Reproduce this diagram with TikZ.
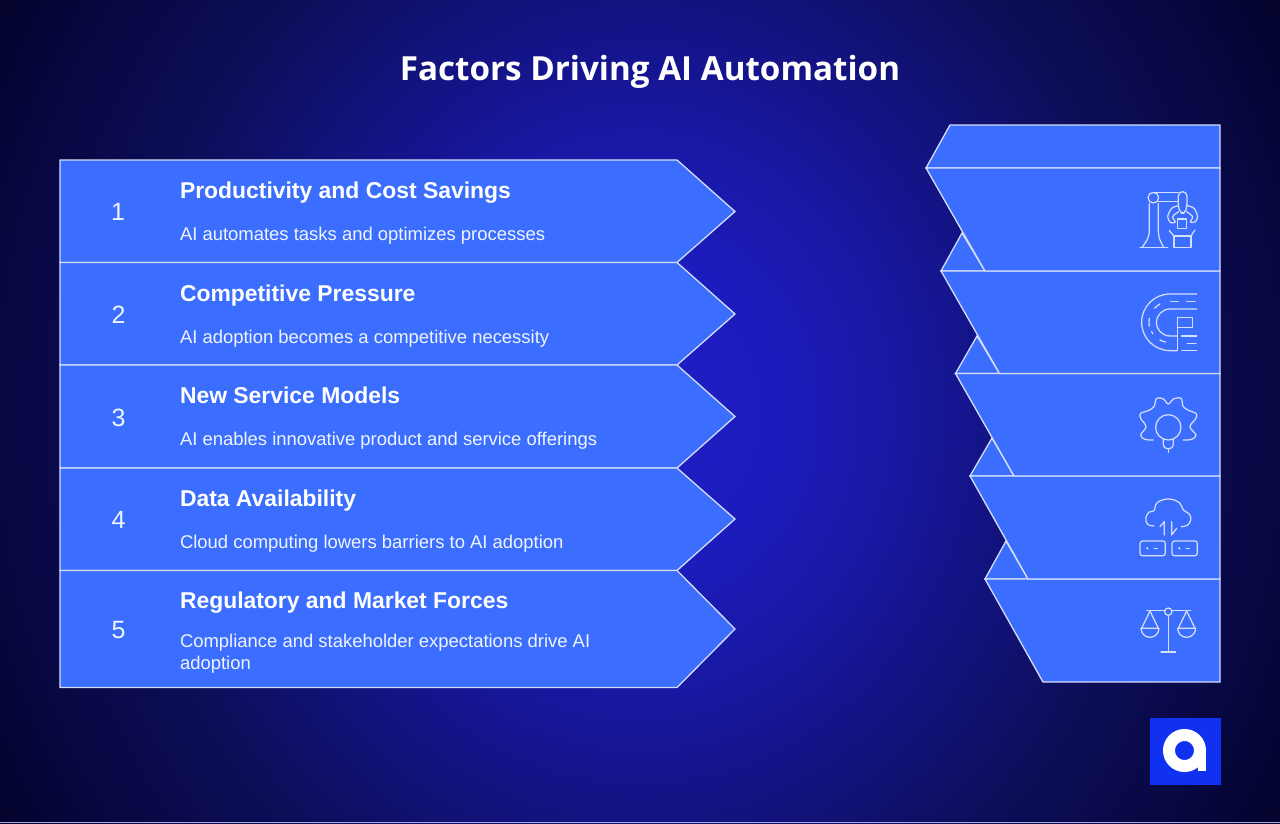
\documentclass[tikz,border=0pt]{standalone}
\usepackage{fontspec}
\setmainfont{Liberation Sans}
\newfontfamily\titlefont{Open Sans}
\definecolor{panel}{RGB}{59,110,254}
\definecolor{edge}{RGB}{212,222,248}
\definecolor{logoblue}{RGB}{16,50,240}
\definecolor{strip}{RGB}{170,170,225}
\pgfdeclareradialshading{bgglow}{\pgfpoint{0bp}{0bp}}{
    rgb(0bp)=(0.115,0.115,0.78);
    rgb(5.6bp)=(0.11,0.11,0.74);
    rgb(10.5bp)=(0.09,0.09,0.62);
    rgb(15.5bp)=(0.07,0.07,0.47);
    rgb(20bp)=(0.05,0.05,0.34);
    rgb(25bp)=(0.03,0.03,0.26);
    rgb(29bp)=(0.012,0.012,0.17);
    rgb(32bp)=(0,0,0.08);
    rgb(38bp)=(0,0,0.03);
    rgb(100bp)=(0,0,0.03)}
\tikzstyle{base}=[x=1pt, y=-1pt, inner sep=0pt, outer sep=0pt]
\tikzstyle{rowbox}=[draw=edge, fill=panel, line width=1.3pt, line join=miter]
\tikzstyle{icon}=[draw=edge, line width=1.25pt, line cap=round, line join=round]
\tikzstyle{heading}=[anchor=base west, text=white, font=\bfseries\fontsize{22.9}{24}\selectfont]
\tikzstyle{detail}=[anchor=base west, text=white!92!panel, font=\fontsize{18.45}{22}\selectfont, align=left]
\tikzstyle{number}=[text=white!92!panel, font=\fontsize{25}{25}\selectfont]
\begin{document}
\begin{tikzpicture}[base]
    \path [use as bounding box] (0,0) rectangle (1280,823);
    \begin{scope}
        \clip (0,0) rectangle (1280,823);
        \fill [shading=bgglow] (0,-300) rectangle (1280,1123);
    \end{scope}
    \fill [strip] (0,822) rectangle (1280,823);
    \node [anchor=base, text=white, font=\titlefont\bfseries\fontsize{33.2}{34}\selectfont] (title) at (650,80.5) {Factors Driving AI Automation};

    \draw [rowbox] (60,160) -- (677,160) -- (735,211.5) -- (677,262.5) -- (60,262.5) -- cycle;
    \draw [rowbox] (60,262.5) -- (677,262.5) -- (735,314) -- (677,365) -- (60,365) -- cycle;
    \draw [rowbox] (60,365) -- (677,365) -- (735,416.5) -- (677,468) -- (60,468) -- cycle;
    \draw [rowbox] (60,468) -- (677,468) -- (735,519) -- (677,570.5) -- (60,570.5) -- cycle;
    \draw [rowbox] (60,570.5) -- (677,570.5) -- (735,629) -- (677,687.5) -- (60,687.5) -- cycle;

    \node [number] (num1) at (118,212) {1};
    \node [number] (num2) at (118.5,315) {2};
    \node [number] (num3) at (118.5,418) {3};
    \node [number] (num4) at (118.5,520) {4};
    \node [number] (num5) at (118.5,630) {5};

    \node [heading] (head1) at (180,198.5) {Productivity and Cost Savings};
    \node [detail] (text1) at (180,240.5) {AI automates tasks and optimizes processes};
    \node [heading] (head2) at (180,301) {Competitive Pressure};
    \node [detail] (text2) at (180,343) {AI adoption becomes a competitive necessity};
    \node [heading] (head3) at (180,403.5) {New Service Models};
    \node [detail] (text3) at (180,445.5) {AI enables innovative product and service offerings};
    \node [heading] (head4) at (180,506.5) {Data Availability};
    \node [detail] (text4) at (180,548) {Cloud computing lowers barriers to AI adoption};
    \node [heading] (head5) at (180,608.5) {Regulatory and Market Forces};
    \node [detail] (text5) at (180,669.5) {Compliance and stakeholder expectations drive AI\\adoption};

    \draw [rowbox] (985,579) -- (1006,541) -- (1028,579) -- cycle;
    \draw [rowbox] (985,579) -- (1220,579) -- (1220,682) -- (1043,682) -- cycle;
    \draw [rowbox] (970,476) -- (992,438) -- (1014,476) -- cycle;
    \draw [rowbox] (970,476) -- (1220,476) -- (1220,579) -- (1028,579) -- cycle;
    \draw [rowbox] (955.5,373.5) -- (977,336) -- (999.5,373.5) -- cycle;
    \draw [rowbox] (955.5,373.5) -- (1220,373.5) -- (1220,476) -- (1014,476) -- cycle;
    \draw [rowbox] (941,271) -- (962,233) -- (985,271) -- cycle;
    \draw [rowbox] (941,271) -- (1220,271) -- (1220,373.5) -- (999.5,373.5) -- cycle;
    \draw [rowbox] (926,168) -- (950,125) -- (1220,125) -- (1220,168) -- cycle;
    \draw [rowbox] (926,168) -- (1220,168) -- (1220,271) -- (985,271) -- cycle;

    \begin{scope}[shift={(900,110)}, scale=0.3333, icon]
        \draw (720,412) -- (803,412);
        \draw (760,263) circle (16);
        \draw (748,280) -- (748,360) .. controls (748,385) and (738,395) .. (728,410);
        \draw (775,280) -- (775,360) .. controls (775,385) and (782,395) .. (790,410);
        \draw (762,248) -- (835,248) (775,274) -- (835,274);
        \draw [rounded corners=4pt] (836,245) -- (860,245) -- (862,280) -- (856,310) -- (840,310) -- (834,280) -- cycle;
        \draw plot [smooth] coordinates {(835,287) (815,295) (803,320) (812,338) (826,336) (818,320) (836,305)};
        \draw plot [smooth] coordinates {(862,287) (882,295) (893,320) (885,336) (871,336) (878,320) (860,305)};
        \draw (833,327) rectangle (860,355);
        \draw (822,378) rectangle (873,412);
        \draw (808,362) -- (822,378) (885,360) -- (873,378);
    \end{scope}

    \begin{scope}[shift={(900,110)}, scale=0.3333, icon]
        \draw (890,552) -- (810,552) arc [start angle=270, end angle=90, radius=85] -- (830,722);
        \draw (890,597) -- (810,597) arc [start angle=270, end angle=90, radius=40.5] -- (830,678);
        \draw (812,575) -- (835,575) (860,575) -- (885,575);
        \draw (780,582) arc [start angle=241, end angle=222, radius=62];
        \draw (748,625) arc [start angle=191, end angle=169, radius=62];
        \draw (755,665) arc [start angle=153, end angle=146, radius=62];
        \draw (780,690) arc [start angle=119, end angle=102, radius=62];
        \draw (832,622) -- (832,722);
        \draw (832,622) -- (877,622) -- (877,652) -- (832,652);
        \draw (845,678) -- (890,678) (862,700) -- (888,700) (845,722) -- (890,722);
    \end{scope}

    \begin{scope}[shift={(900,380)}, scale=0.3333, icon]
        \draw plot [smooth, tension=0.6] coordinates {(760,180) (735,178) (722,165) (738,140) (722,115) (722,100) (745,92) (762,80) (770,55) (790,57) (805,72) (820,57) (843,55) (850,80) (868,92) (888,100) (888,115) (870,140) (888,165) (875,178) (850,180)};
        \draw (805,142) circle (38);
        \draw (790,178) -- (790,192) .. controls (790,202) and (798,207) .. (805,207) .. controls (812,207) and (820,202) .. (820,192) -- (820,178);
        \draw (805,207) -- (805,218);
    \end{scope}

    \begin{scope}[shift={(900,380)}, scale=0.3333, icon]
        \draw plot [smooth, tension=0.7] coordinates {(762,438) (742,432) (738,412) (748,396) (762,392) (772,368) (805,357) (838,368) (850,390) (868,402) (872,420) (862,436) (844,440)};
        \draw (793,465) -- (793,425) -- (780,440);
        \draw (815,425) -- (815,465) -- (830,445);
        \draw [rounded corners=2.5pt] (720,483) rectangle (796,527);
        \draw [rounded corners=2.5pt] (816,483) rectangle (892,527);
        \fill [edge, draw=none] (742,505) circle (3.5);
        \fill [edge, draw=none] (838,505) circle (3.5);
        \draw (762,505) -- (772,505) (858,505) -- (868,505);
    \end{scope}

    \begin{scope}[shift={(900,380)}, scale=0.3333, icon]
        \draw (740,691) -- (794,691) (816,691) -- (872,691);
        \draw (805,695) circle (11);
        \draw (805,706) -- (805,816) (783,816) -- (827,816);
        \draw (725,745) -- (750,693) -- (775,745);
        \draw (835,745) -- (860,693) -- (885,745);
        \draw (723,745) -- (777,745) arc [start angle=0, end angle=180, radius=27];
        \draw (833,745) -- (887,745) arc [start angle=0, end angle=180, radius=27];
    \end{scope}

    \fill [logoblue] (1149.5,717.5) rectangle (1220.5,784.5);
    \draw [white, line width=12pt] (1184.5,750.5) circle (15.5);
    \fill [white] (1198,750.5) rectangle (1206,770.5);
\end{tikzpicture}
\end{document}
